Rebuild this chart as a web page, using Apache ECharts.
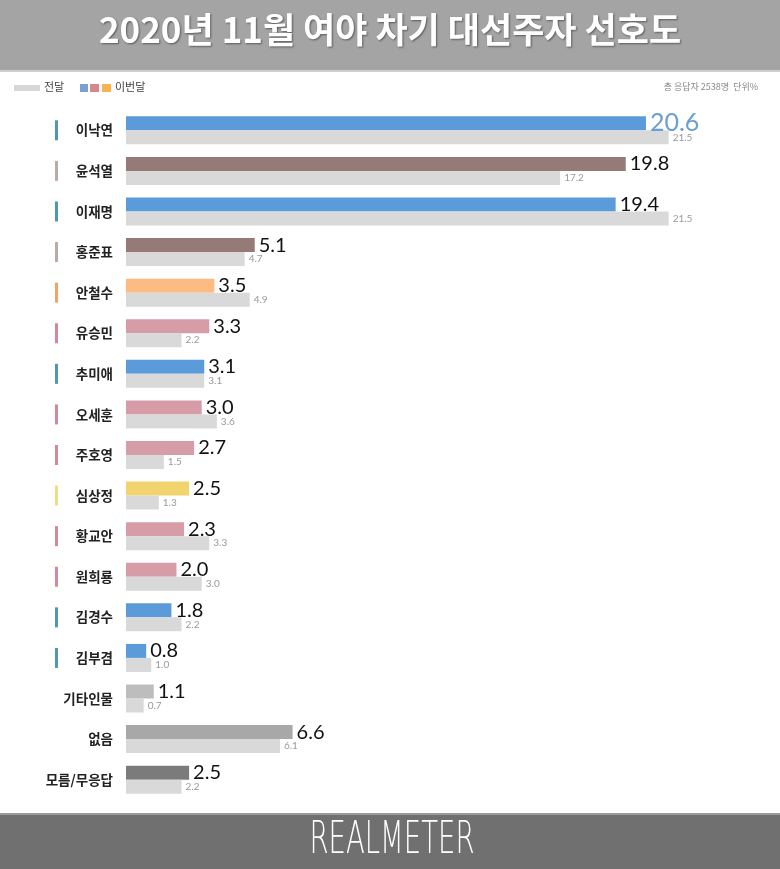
<!DOCTYPE html>
<html>
<head>
<meta charset="utf-8">
<script src="https://cdn.jsdelivr.net/npm/echarts@6/dist/echarts.min.js"></script>
<style>
html,body{margin:0;padding:0;background:#fff;}
#c{width:780px;height:869px;}
</style>
</head>
<body>
<div id="c"></div>
<script>
var categories = ['이낙연','윤석열','이재명','홍준표','안철수','유승민','추미애','오세훈','주호영','심상정','황교안','원희룡','김경수','김부겸','기타인물','없음','모름/무응답'];
var thisMonth = [20.6,19.8,19.4,5.1,3.5,3.3,3.1,3.0,2.7,2.5,2.3,2.0,1.8,0.8,1.1,6.6,2.5];
var lastMonth = [21.5,17.2,21.5,4.7,4.9,2.2,3.1,3.6,1.5,1.3,3.3,3.0,2.2,1.0,0.7,6.1,2.2];
var barColors = ['#5b9bd9','#957a78','#5b9bd9','#957a78','#fdbb82','#d69ca8','#5b9bd9','#d69ca8','#d69ca8','#f1d46e','#d69ca8','#d69ca8','#5b9bd9','#5b9bd9','#bdbdbd','#a8a8a8','#7b7b7b'];
var markerKeys = ['b','g','b','g','o','p','b','p','p','y','p','p','b','b','n','n','n'];
var title = '2020년 11월 여야 차기 대선주자 선호도';
var legendPrev = '전달';
var legendCur = '이번달';
var noteText = '총 응답자 2538명  단위%';
var footerText = 'REALMETER';

var chart = echarts.init(document.getElementById('c'));
var nameIdx = {};
categories.forEach(function(c,i){nameIdx[c]=i;});

var curData = thisMonth.map(function(v,i){
  var d = {value:v, itemStyle:{color:barColors[i]}};
  if(i===0){ d.label = {color:'#6a9fd2', fontSize:25}; }
  return d;
});

var markerStyle = function(col){ return {backgroundColor:col, width:3, height:20}; };

chart.setOption({
  animation:false,
  graphic:[
    {type:'rect', shape:{x:0,y:0,width:780,height:70}, style:{fill:'#a4a4a4'}},
    {type:'rect', shape:{x:0,y:70,width:780,height:2}, style:{fill:'#cfcfcf'}},
    {type:'text', left:'center', top:12, style:{text:title, fill:'#ffffff', font:'bold 35px "Noto Sans CJK KR"', textShadowColor:'rgba(0,0,0,0.45)', textShadowBlur:2, textShadowOffsetX:1, textShadowOffsetY:1}},
    {type:'rect', shape:{x:14,y:85,width:26,height:6}, style:{fill:'#d6d6d6'}},
    {type:'text', left:44, top:81, style:{text:legendPrev, fill:'#444', font:'11px "Noto Sans CJK KR"'}},
    {type:'rect', shape:{x:80,y:84,width:8,height:8}, style:{fill:'#7c9fd6'}},
    {type:'rect', shape:{x:90,y:84,width:9,height:8}, style:{fill:'#d6878e'}},
    {type:'rect', shape:{x:102,y:84,width:9,height:8}, style:{fill:'#f8b24e'}},
    {type:'text', left:115, top:81, style:{text:legendCur, fill:'#444', font:'11px "Noto Sans CJK KR"'}},
    {type:'text', right:22, top:82, style:{text:noteText, fill:'#888', font:'9px "Noto Sans CJK KR"'}},
    {type:'rect', shape:{x:0,y:813,width:780,height:2}, style:{fill:'#9a9a9a'}},
    {type:'rect', shape:{x:0,y:815,width:780,height:54}, style:{fill:'#707070'}},
    {type:'text', x:392, y:842, scaleX:0.625, style:{text:footerText, fill:'#ffffff', font:'200 44px "DejaVu Sans"', align:'center', verticalAlign:'middle'}}
  ],
  grid:{left:126, right:23, top:110, height:690, containLabel:false},
  xAxis:{type:'value', min:0, max:25, show:false},
  yAxis:{
    type:'category', data:categories, inverse:true,
    axisLine:{show:false}, axisTick:{show:false},
    axisLabel:{
      margin:13,
      formatter:function(v){ var k = markerKeys[nameIdx[v]]; return '{'+k+'|}{t|'+v+'}'; },
      rich:{
        b:markerStyle('#4f97b3'),
        g:markerStyle('#b9aca8'),
        o:markerStyle('#f1a467'),
        p:markerStyle('#d5889a'),
        y:markerStyle('#f1dc85'),
        n:{width:0, height:20},
        t:{width:55, align:'right', fontSize:13.5, fontWeight:'bold', color:'#222', fontFamily:'"Noto Sans CJK KR"'}
      }
    }
  },
  series:[
    {type:'bar', name:'이번달', data:curData, barWidth:14, barGap:'0%', barCategoryGap:'30%',
     label:{show:true, position:'right', distance:4, color:'#111', fontSize:20, fontFamily:'Lato', formatter:function(p){return p.value.toFixed(1);}}},
    {type:'bar', name:'전달', data:lastMonth, barWidth:14, itemStyle:{color:'#d9d9d9'},
     label:{show:true, position:'right', distance:4, color:'#999', fontSize:10, fontFamily:'Lato', formatter:function(p){return p.value.toFixed(1);}}}
  ]
});
</script>
</body>
</html>
